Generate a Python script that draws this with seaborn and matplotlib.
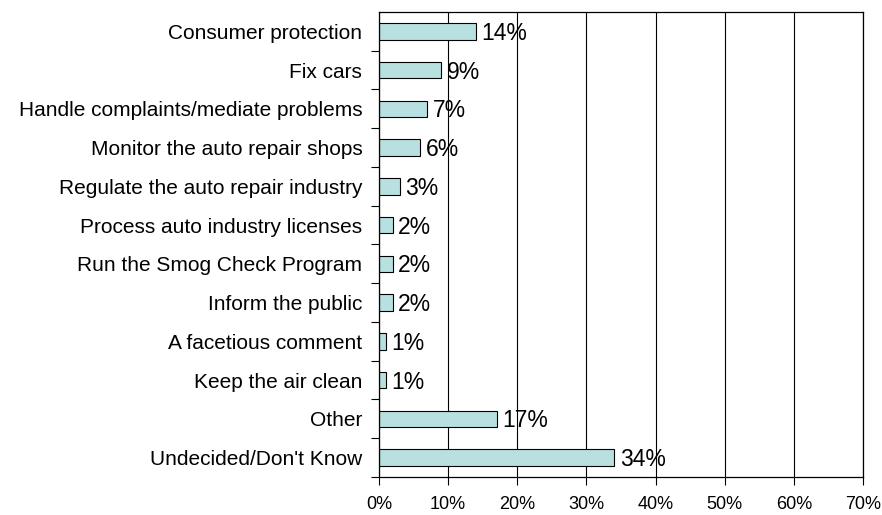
import matplotlib
matplotlib.use("Agg")
import matplotlib.pyplot as plt
import seaborn as sns
import pandas as pd
from matplotlib.ticker import FixedLocator, PercentFormatter

categories = [
    "Consumer protection",
    "Fix cars",
    "Handle complaints/mediate problems",
    "Monitor the auto repair shops",
    "Regulate the auto repair industry",
    "Process auto industry licenses",
    "Run the Smog Check Program",
    "Inform the public",
    "A facetious comment",
    "Keep the air clean",
    "Other",
    "Undecided/Don't Know",
]
values = [14, 9, 7, 6, 3, 2, 2, 2, 1, 1, 17, 34]
x_ticks = [0, 10, 20, 30, 40, 50, 60, 70]

df = pd.DataFrame({"category": categories, "value": values})

sns.set_style("white")
plt.rcParams["font.family"] = ["Liberation Sans", "DejaVu Sans"]
plt.rcParams["text.color"] = "black"
plt.rcParams["xtick.color"] = "black"
plt.rcParams["ytick.color"] = "black"
plt.rcParams["xtick.labelcolor"] = "black"
plt.rcParams["ytick.labelcolor"] = "black"

fig = plt.figure(figsize=(8.82, 5.15), dpi=100)
ax = fig.add_axes([0.4297, 0.0738, 0.5488, 0.9029])

sns.barplot(data=df, x="value", y="category", orient="h", color="#B9E0E0",
            edgecolor="black", linewidth=0.8, width=0.42, saturation=1, ax=ax)

for i, v in enumerate(values):
    ax.text(v + 0.8, i + 0.05, f"{v}%", va="center", ha="left", fontsize=16.5, color="black")

ax.set_xlim(0, 70)
ax.set_ylim(len(categories) - 0.5, -0.5)
ax.xaxis.set_major_locator(FixedLocator(x_ticks))
ax.xaxis.set_major_formatter(PercentFormatter(decimals=0))
ax.set_xlabel("")
ax.set_ylabel("")

# gridlines at each 10%
ax.grid(axis="x", color="black", linewidth=0.8)
ax.set_axisbelow(True)

for s in ax.spines.values():
    s.set_visible(True)
    s.set_color("black")
    s.set_linewidth(0.9)

# y ticks at category boundaries, labels centred
ax.set_yticks([i + 0.5 for i in range(len(categories))], minor=True)
ax.tick_params(axis="y", which="minor", length=6, width=0.8, direction="out", left=True)
ax.tick_params(axis="y", which="major", length=0, labelsize=15, pad=12)
ax.tick_params(axis="x", which="major", length=6, width=0.8, direction="out",
               bottom=True, labelsize=13, pad=8)

fig.savefig("out.png", dpi=100)
